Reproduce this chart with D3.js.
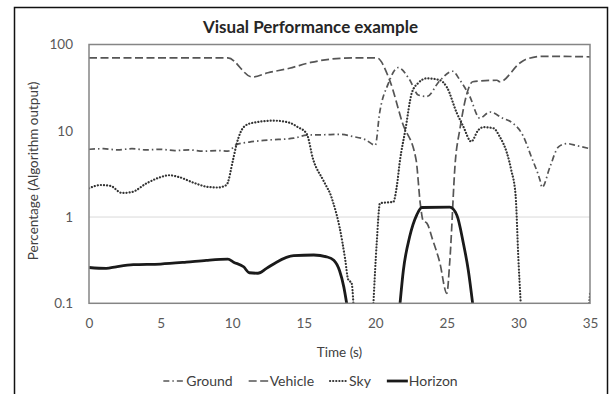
<!DOCTYPE html>
<html>
<head>
<meta charset="utf-8">
<script src="https://cdn.jsdelivr.net/npm/d3@7"></script>
<style>
  body { margin: 0; background: #fff; }
  svg { display: block; font-family: Lato, "Open Sans", sans-serif; }
</style>
</head>
<body>
<svg id="chart" width="610" height="394"></svg>
<script>
// Axis ticks
const timeTicks = [0, 5, 10, 15, 20, 25, 30, 35];
const pctTicks = [0.1, 1, 10, 100];
const gridValues = [1];

// Series: [time (s), percentage]; null marks a gap where the output drops to zero
const ground = [
  [0, 6.1], [1, 6.2], [2, 6.0], [3, 6.2], [4, 6.0], [5, 6.1], [6, 5.9], [7, 6.0],
  [8, 5.8], [9, 5.9], [9.7, 5.8], [10.3, 6.9], [11.2, 7.4], [12.5, 7.8], [14.3, 8.2],
  [15.2, 8.9], [16.5, 9.0], [17.5, 9.1], [18.4, 8.6], [19.3, 7.9], [20.0, 6.8],
  [20.3, 16], [20.9, 35], [21.6, 54], [22.4, 39], [23.0, 26], [23.6, 25], [24.5, 38],
  [25.4, 49], [25.9, 39], [26.6, 25], [27.3, 14], [28.0, 16.5], [28.9, 14], [29.6, 12.3],
  [30.3, 8.9], [30.9, 5.0], [31.5, 2.7], [31.65, 2.2], [32.2, 3.8], [32.8, 6.5],
  [33.4, 7.1], [34.1, 6.7], [35, 6.2]
];
const vehicle = [
  [0, 70], [9.7, 70], [11.4, 42], [12.5, 47], [14, 53], [15.5, 62], [17, 68], [18.5, 70],
  [20.1, 70], [21.0, 38.7], [21.9, 12.3], [22.85, 4.6], [23.15, 1.4], [23.35, 0.9],
  [23.6, 0.85], [24.0, 0.55], [24.5, 0.3], [25.0, 0.13], [25.2, 0.3], [25.6, 4.6],
  [25.9, 10.2], [26.4, 27], [26.8, 37], [28.5, 38.5], [28.7, 37], [30.1, 61], [30.5, 67],
  [31.7, 73], [35, 72]
];
const sky = [
  [0, 2.15], [0.8, 2.35], [1.5, 2.3], [2.3, 1.9], [3.0, 1.95], [4.0, 2.45], [5.0, 2.9],
  [5.6, 3.05], [6.3, 2.9], [7.3, 2.5], [8.2, 2.25], [9.0, 2.2], [9.6, 2.35], [10.06, 4.6],
  [10.3, 6.9], [10.8, 11], [11.3, 12.2], [12.9, 13.1], [14.0, 12.4], [14.6, 11], [15.2, 9.3],
  [15.67, 4.6], [16.35, 2.7], [16.6, 2.25], [16.84, 1.88], [17.07, 1.45], [17.5, 0.77],
  [17.9, 0.32], [18.1, 0.19], [18.35, 0.17], [18.47, 0.1], null,
  [19.87, 0.1], [20.1, 0.5], [20.33, 1.45], [21.26, 1.5], [21.5, 2.25], [21.73, 4.6],
  [22.1, 10.2], [22.55, 27.4], [23.0, 35.8], [23.6, 40.5], [24.5, 38.7], [25.0, 32],
  [25.7, 16], [26.15, 11.2], [26.7, 7.5], [27.2, 10.2], [27.55, 11], [28.25, 10.7],
  [28.7, 8.5], [29.2, 5.5], [29.5, 3.5], [29.8, 1.8], [30.0, 0.32], [30.16, 0.1], null,
  [34.95, 0.1], [35, 0.13]
];
const horizon = [
  [0, 0.26], [1.2, 0.254], [1.9, 0.265], [3.1, 0.28], [5.0, 0.285], [6.8, 0.30],
  [8.2, 0.315], [9.7, 0.325], [10.1, 0.30], [10.8, 0.265], [11.2, 0.226], [11.8, 0.223],
  [12.4, 0.254], [13.1, 0.30], [14.3, 0.356], [15.7, 0.363], [16.6, 0.346], [17.1, 0.316],
  [17.5, 0.24], [17.8, 0.155], [18.0, 0.1], null,
  [21.73, 0.1], [21.96, 0.24], [22.4, 0.59], [22.9, 1.06], [23.25, 1.29], [25.2, 1.3],
  [25.7, 1.05], [26.15, 0.5], [26.5, 0.24], [26.8, 0.1]
];

const seriesNames = ["Ground", "Vehicle", "Sky", "Horizon"];
const seriesData = [ground, vehicle, sky, horizon];

// Line styles per series
const styles = {
  Ground:  { stroke: "#555555", width: 1.7, dash: "6,3,1.5,3", cap: "butt" },
  Vehicle: { stroke: "#555555", width: 1.7, dash: "8,3.5", cap: "butt" },
  Sky:     { stroke: "#333333", width: 2.2, dash: "0.1,3", cap: "round" },
  Horizon: { stroke: "#1a1a1a", width: 2.8, dash: null, cap: "butt" }
};

const svg = d3.select("#chart");
const W = 610, H = 394;
const plot = { left: 89, right: 590, top: 44.5, bottom: 303.3 };

svg.append("rect").attr("width", W).attr("height", H).attr("fill", "#fff");

// Outer chart frame
svg.append("rect")
  .attr("x", 14.5).attr("y", 7.5)
  .attr("width", 593).attr("height", 420)
  .attr("fill", "none").attr("stroke", "#111").attr("stroke-width", 1.5);

const x = d3.scaleLinear().domain([0, 35]).range([plot.left, plot.right]);
const y = d3.scaleLog().domain([0.1, 100]).range([plot.bottom, plot.top]);

// Gridline
svg.append("g").selectAll("line").data(gridValues).join("line")
  .attr("x1", plot.left).attr("x2", plot.right)
  .attr("y1", d => y(d)).attr("y2", d => y(d))
  .attr("stroke", "#d9d9d9").attr("stroke-width", 1);

// Clip for series lines
svg.append("clipPath").attr("id", "plotClip").append("rect")
  .attr("x", plot.left).attr("y", plot.top)
  .attr("width", plot.right - plot.left).attr("height", plot.bottom - plot.top);

const line = d3.line()
  .defined(d => d !== null)
  .x(d => x(d[0]))
  .y(d => y(d[1]))
  .curve(d3.curveMonotoneX);

const linesG = svg.append("g").attr("clip-path", "url(#plotClip)");
seriesNames.forEach((name, i) => {
  const s = styles[name];
  linesG.append("path")
    .datum(seriesData[i])
    .attr("d", line)
    .attr("fill", "none")
    .attr("stroke", s.stroke)
    .attr("stroke-width", s.width)
    .attr("stroke-dasharray", s.dash)
    .attr("stroke-linecap", s.cap)
    .attr("stroke-linejoin", "round");
});

// Plot area border
svg.append("rect")
  .attr("x", plot.left).attr("y", plot.top)
  .attr("width", plot.right - plot.left).attr("height", plot.bottom - plot.top)
  .attr("fill", "none").attr("stroke", "#858585").attr("stroke-width", 1.5);

// Axes
const xAxis = svg.append("g")
  .attr("transform", `translate(0,${plot.bottom})`)
  .call(d3.axisBottom(x).tickValues(timeTicks).tickSize(0).tickPadding(15));
const yAxis = svg.append("g")
  .attr("transform", `translate(${plot.left},0)`)
  .call(d3.axisLeft(y).tickValues(pctTicks).tickSize(0).tickPadding(16)
    .tickFormat(d3.format("~g")));
[xAxis, yAxis].forEach(g => {
  g.select(".domain").remove();
  g.selectAll("text")
    .attr("fill", "#595959")
    .style("font-family", "Lato, 'Open Sans', sans-serif")
    .style("font-size", "13.5px");
});

// Title
svg.append("text")
  .attr("x", 310.5).attr("y", 33)
  .attr("text-anchor", "middle")
  .attr("font-size", "17px").attr("font-weight", "bold")
  .attr("fill", "#262626")
  .text("Visual Performance example");

// Axis titles
svg.append("text")
  .attr("x", (plot.left + plot.right) / 2).attr("y", 357)
  .attr("text-anchor", "middle")
  .attr("font-size", "13.5px").attr("fill", "#404040")
  .text("Time (s)");

svg.append("text")
  .attr("transform", `translate(38,${(plot.top + plot.bottom) / 2 - 3}) rotate(-90)`)
  .attr("text-anchor", "middle")
  .attr("font-size", "13.5px").attr("fill", "#404040")
  .text("Percentage (Algorithm output)");

// Legend
const legendY = 381;
const legend = svg.append("g");
const sampleW = { Ground: 22, Vehicle: 20, Sky: 18, Horizon: 21 };
const items = [];
seriesNames.forEach(name => {
  const g = legend.append("g");
  const s = styles[name];
  g.append("line")
    .attr("x1", 0).attr("x2", sampleW[name])
    .attr("y1", 0).attr("y2", 0)
    .attr("stroke", s.stroke).attr("stroke-width", s.width)
    .attr("stroke-dasharray", s.dash).attr("stroke-linecap", s.cap);
  const t = g.append("text")
    .attr("x", sampleW[name] + 1).attr("y", 5)
    .attr("font-size", "14px").attr("fill", "#404040")
    .text(name);
  const w = sampleW[name] + 1 + t.node().getComputedTextLength();
  items.push({ g, w });
});
const gap = 16;
const total = d3.sum(items, d => d.w) + gap * (items.length - 1);
let cx = 310.5 - total / 2;
items.forEach(it => {
  it.g.attr("transform", `translate(${cx},${legendY})`);
  cx += it.w + gap;
});
</script>
</body>
</html>
